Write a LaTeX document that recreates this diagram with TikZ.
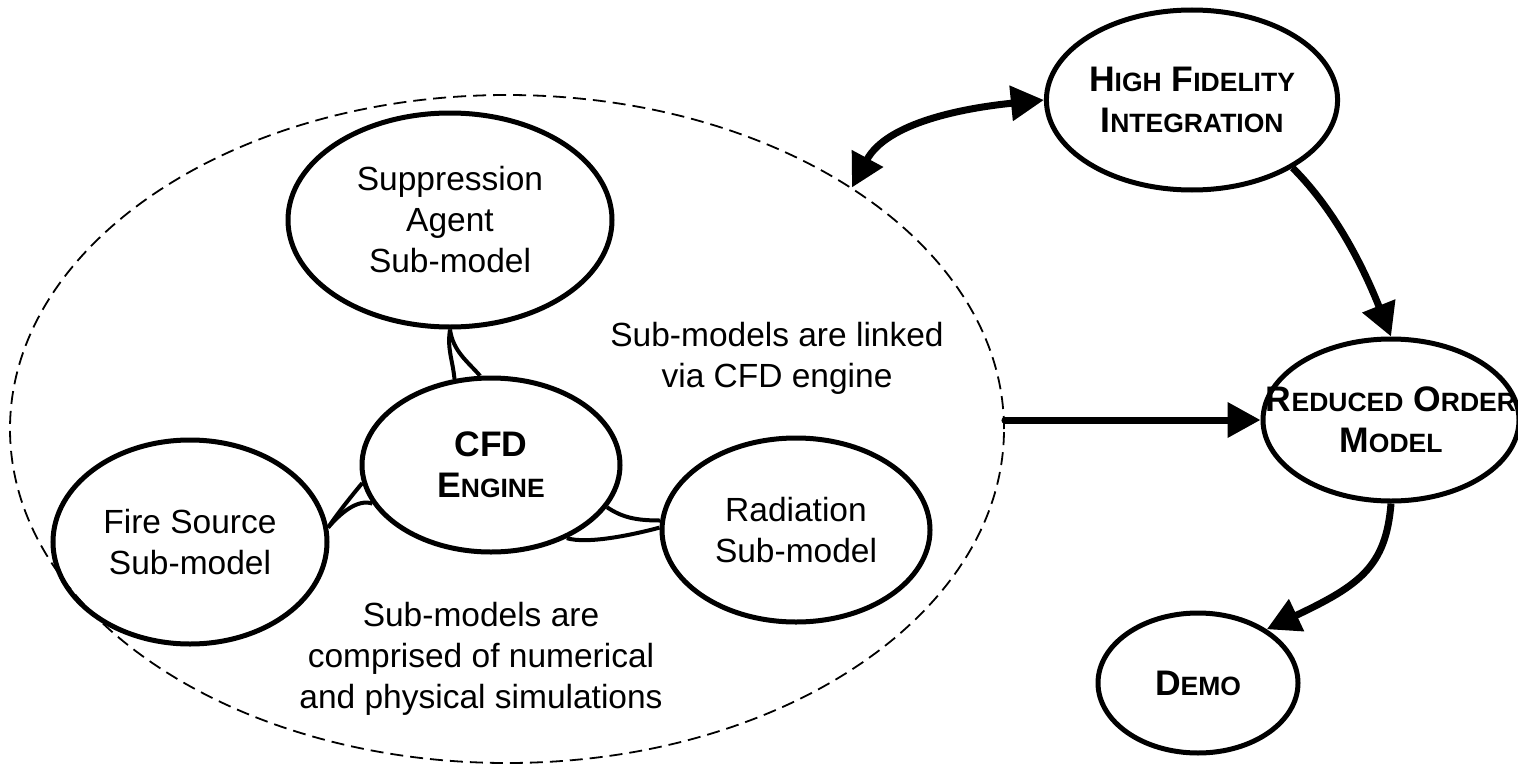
\documentclass[tikz,border=0pt]{standalone}
\usepackage{fontspec}
\setmainfont{Liberation Sans}
\usetikzlibrary{arrows.meta,shapes.geometric}

\newcommand\txtfont{\fontsize{33.5}{41}\selectfont}
\newcommand\lblfont{\fontsize{35.5}{41}\selectfont\bfseries}
\newcommand\smc[1]{{\fontsize{26.5}{41}\selectfont #1}}

\begin{document}
\begin{tikzpicture}[x=1pt,y=-1pt,
  model/.style={ellipse, draw, line width=5pt, inner sep=0pt, align=center, font=\txtfont},
  stage/.style={ellipse, draw, line width=5pt, inner sep=0pt, align=center, font=\lblfont},
  note/.style={align=center, font=\txtfont, inner sep=0pt},
  link/.style={line width=4pt},
  tip/.tip={Triangle[length=33pt,width=34pt]},
  flow/.style={line width=7pt, -tip},
]
\useasboundingbox (0,0) rectangle (1518,768);

% group boundary of the sub-models
\node[ellipse, draw, dash pattern=on 13pt off 7pt, line width=1.8pt,
      minimum width=994pt, minimum height=668pt, inner sep=0pt] (grp) at (507,429) {};

% sub-models and engine
\node[model, minimum width=324pt, minimum height=214pt] (supp) at (450,220) {Suppression\\Agent\\Sub-model};
\node[stage, minimum width=258pt, minimum height=174pt] (cfd) at (491,465) {CFD\\E\smc{NGINE}};
\node[model, minimum width=274pt, minimum height=204pt] (fire) at (190,542) {Fire Source\\Sub-model};
\node[model, minimum width=268pt, minimum height=184pt] (rad) at (796,530) {Radiation\\Sub-model};

\node[note] (linked) at (777,358) {Sub-models are linked\\via CFD engine};
\node[note] (comprised) at (481,659) {Sub-models are\\comprised of numerical\\and physical simulations};

% stages
\node[stage, minimum width=290pt, minimum height=180pt] (hf) at (1192,100) {H\smc{IGH} F\smc{IDELITY}\\I\smc{NTEGRATION}};
\node[stage, minimum width=256pt, minimum height=162pt, inner xsep=-50pt] (ro) at (1391,420) {R\smc{EDUCED} O\smc{RDER}\\M\smc{ODEL}};
\node[stage, minimum width=200pt, minimum height=140pt] (demo) at (1198,683) {D\smc{EMO}};

% double links between engine and sub-models
\draw[link] (supp.south) .. controls +(-3,20) and +(-2,-20) .. (cfd.113);
\draw[link] (supp.south) .. controls +(3,22) and +(-12,-14) .. (cfd.97);
\draw[link] (fire.6) .. controls +(10,-15) and +(-10,12) .. (cfd.188);
\draw[link] (fire.6) .. controls +(12,-14) and +(-15,-5) .. (cfd.198);
\draw[link] (cfd.-20) .. controls +(15,10) and +(-25,0) .. (rad.176);
\draw[link] (cfd.-44) .. controls +(20,6) and +(-30,8) .. (rad.179);

% process flow
\draw[flow, tip-tip] (grp.35) .. controls +(35,-65) and +(-80,8) .. (hf.west);
\draw[flow] (hf.-34) .. controls +(45,45) and +(-26,-65) .. (ro.north);
\draw[flow, line cap=round] (grp.east |- ro.west) -- (ro.west);
\draw[flow] (ro.south) .. controls +(-5,63) and +(93,-44) .. (demo.38);
\end{tikzpicture}
\end{document}
